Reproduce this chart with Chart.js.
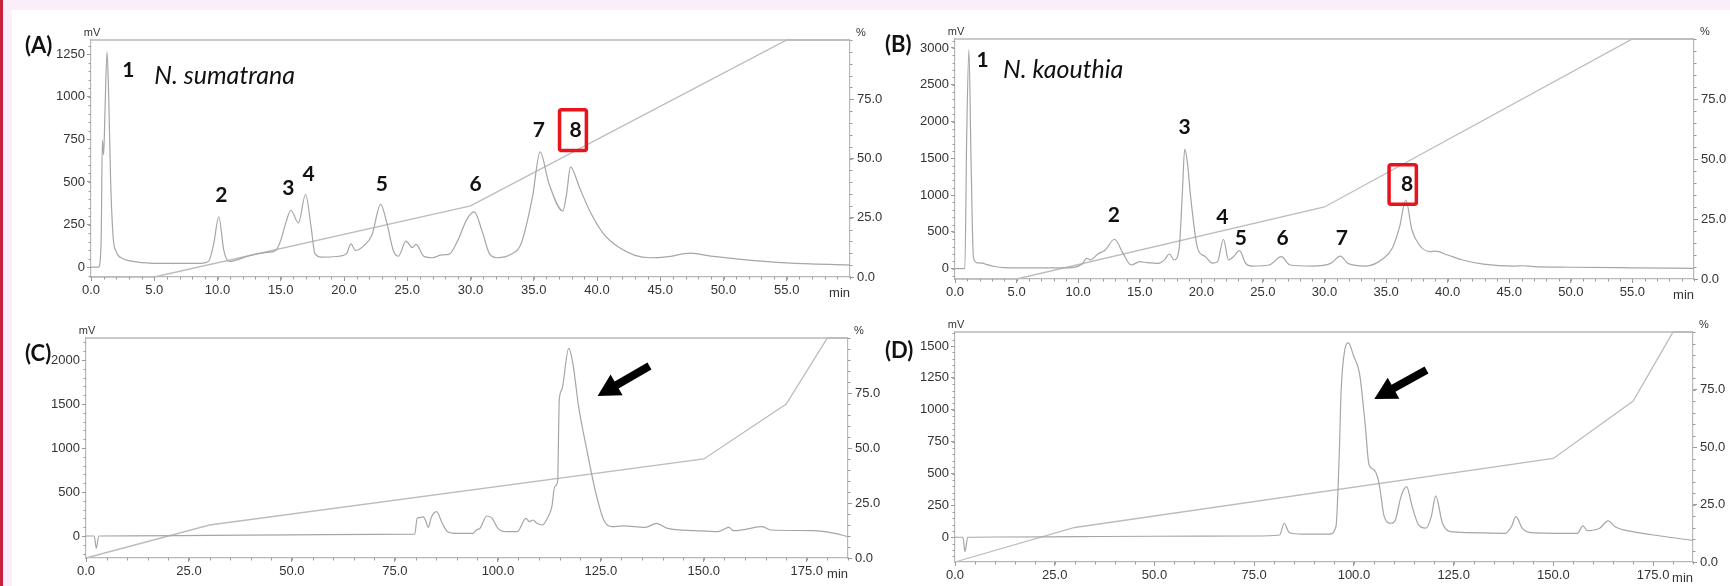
<!DOCTYPE html>
<html>
<head>
<meta charset="utf-8">
<script src="https://cdn.jsdelivr.net/npm/chart.js@4.4.1/dist/chart.umd.min.js"></script>
<style>
html,body{margin:0;padding:0;width:1730px;height:586px;overflow:hidden;background:#faeefa;}
#stripe{position:absolute;left:0;top:0;width:3px;height:586px;background:#c8203c;}
#sheet{position:absolute;left:12px;top:10px;width:1718px;height:576px;background:#ffffff;}
canvas{position:absolute;}
</style>
</head>
<body>
<div id="stripe"></div>
<div id="sheet"></div>
<canvas id="cA"></canvas>
<canvas id="cB"></canvas>
<canvas id="cC"></canvas>
<canvas id="cD"></canvas>
<script>
// ---------------- DATA ----------------
// (A) N. sumatrana : time (min) / detector signal (mV)
const timeA = [0, 0.6, 0.8, 0.9, 0.95, 1.0, 1.1, 1.27, 1.4, 1.55,
  1.75, 2.0, 2.5, 3.0, 4.0, 6.0, 8.5, 9.3, 9.7, 10.1,
  10.5, 10.9, 12.6, 13.8, 14.6, 15.0, 15.4, 15.8, 16.4, 16.96,
  17.4, 17.7, 18.2, 19.6, 20.2, 20.55, 20.9, 21.6, 22.2, 22.9,
  23.4, 23.9, 24.3, 24.9, 25.4, 25.7, 26.3, 27.0, 27.7, 28.3,
  29.0, 29.7, 30.3, 30.9, 31.5, 32.1, 33.2, 34.0, 34.9, 35.5,
  36.2, 37.3, 37.6, 37.9, 38.6, 39.4, 40.5, 41.7, 43.0, 44.2,
  45.5, 47.4, 49.0, 51.0, 55.0, 60.0];
const signalA = [0, 0, 150, 745, 700, 660, 900, 1265, 1000, 510,
  177, 90, 50, 38, 27, 22, 22, 35, 137, 296,
  98, 33, 69, 85, 98, 157, 260, 334, 259, 428,
  235, 79, 59, 64, 79, 137, 98, 128, 187, 369,
  255, 98, 64, 153, 114, 134, 64, 55, 72, 75,
  157, 279, 324, 216, 79, 55, 75, 137, 412, 677,
  491, 330, 432, 589, 471, 334, 197, 118, 69, 55,
  60, 82, 65, 49, 25, 12];
const gradientTimeA = [0, 5, 30, 55, 60];
const gradientA = [0, 0, 30, 100, 100];

// (B) N. kaouthia
const timeB = [0, 0.8, 0.95, 1.13, 1.3, 1.5, 1.8, 2.2, 2.6, 3.2,
  4.0, 6, 8, 9.5, 10.3, 10.7, 11.0, 11.6, 12.2, 12.95,
  13.6, 14.3, 15.0, 15.6, 16.5, 17.0, 17.4, 17.8, 18.2, 18.45,
  18.65, 18.9, 19.1, 19.7, 20.3, 20.9, 21.3, 21.8, 22.2, 22.6,
  23.1, 23.6, 24.1, 25.5, 26.5, 27.2, 29.0, 30.5, 31.3, 31.9,
  33.4, 34.8, 35.5, 36.1, 36.6, 37.1, 37.7, 38.6, 39.0, 40.0,
  41.2, 42.9, 45.4, 46.1, 47, 50, 55, 60];
const signalB = [0, 0, 1800, 2976, 1500, 150, 80, 75, 55, 30,
  15, 10, 10, 15, 60, 141, 120, 200, 254, 400,
  222, 50, 95, 82, 73, 120, 200, 118, 277, 1000,
  1624, 1400, 1029, 277, 168, 77, 90, 400, 118, 163,
  245, 73, 36, 50, 163, 50, 36, 73, 172, 73,
  36, 141, 277, 571, 934, 526, 322, 231, 240, 186,
  118, 63, 36, 40, 28, 20, 12, 5];
const gradientTimeB = [0, 5, 30, 55, 60];
const gradientB = [0, 0, 30, 100, 100];

// (C)
const timeC = [0, 2.0, 2.5, 3.1, 10, 30, 50, 70, 79.8, 80.4,
  81.0, 81.8, 82.4, 83.1, 83.8, 85.1, 86.5, 87.8, 89.9, 93.9,
  95.0, 95.5, 97.3, 98.6, 100.0, 102.0, 104.7, 106.8, 107.7, 108.5,
  109.5, 110.8, 112.2, 113.1, 113.8, 114.5, 114.9, 115.5, 117.2, 118.2,
  119.6, 121.6, 123.6, 125.7, 127.7, 130.4, 135.8, 138.5, 141.2, 148.0,
  153.4, 156.1, 157.2, 160.1, 164.2, 166.2, 176.4, 181.8, 185];
const signalC = [0, 0, -140, 0, 2, 8, 12, 18, 20, 200,
  208, 220, 182, 98, 208, 277, 144, 49, 30, 30,
  76, 80, 227, 200, 87, 49, 49, 200, 163, 182,
  144, 125, 220, 333, 561, 617, 1545, 1659, 2133, 1962,
  1470, 977, 523, 182, 106, 114, 98, 144, 87, 61,
  49, 98, 60, 76, 106, 68, 61, 30, -8];
const gradientTimeC = [0, 30, 150, 170, 180, 185];
const gradientC = [0, 15, 45, 70, 100, 100];

// (D)
const timeD = [0, 2.0, 2.5, 3.2, 10, 30, 50, 75, 81.4, 82.5,
  83.8, 86.9, 93.8, 95.5, 96.3, 96.8, 97.7, 98.6, 100.0, 101.4,
  102.8, 103.8, 105.1, 106.3, 107.6, 109.3, 110.4, 111.8, 113.2, 114.6,
  116.2, 118.0, 119.4, 120.5, 122.2, 124.2, 128.4, 138.0, 139.5, 140.6,
  142.2, 144.3, 156.0, 157.4, 158.5, 161.6, 163.7, 165.7, 169.9, 176.8, 185];
const signalD = [0, 0, -112, 0, 2, 5, 8, 10, 18, 110,
  37, 24, 24, 84, 632, 1154, 1468, 1525, 1416, 1285,
  893, 567, 528, 423, 162, 110, 136, 319, 397, 240,
  97, 71, 162, 324, 110, 44, 37, 31, 84, 162,
  71, 37, 31, 89, 52, 71, 128, 78, 44, 10, -25];
const gradientTimeD = [0, 30, 150, 170, 180, 185];
const gradientD = [0, 15, 45, 70, 100, 100];

// tick labels
const xTicksShort = [0, 5, 10, 15, 20, 25, 30, 35, 40, 45, 50, 55];
const xTicksLong = [0, 25, 50, 75, 100, 125, 150, 175];
const yTicksA = [0, 250, 500, 750, 1000, 1250];
const yTicksB = [0, 500, 1000, 1500, 2000, 2500, 3000];
const yTicksC = [0, 500, 1000, 1500, 2000];
const yTicksD = [0, 250, 500, 750, 1000, 1250, 1500];
const pctTicks = [0, 25, 50, 75];

// ---------------- STYLE / LAYOUT ----------------
const FONT_AX = "'Liberation Sans Narrow','Liberation Sans',Arial,sans-serif";
const FONT_LBL = "Lato,'Open Sans',sans-serif";
const TRACE = '#a6a6a6', GRAD = '#bcbcbc', FRAME = '#b8b8b8', TICK = '#9a9a9a', TXT = '#333333';
const WL = 75, WR = 36, HX = 30, PT = 30;

const panels = [
  { id: 'cA', x: 16, y: 10, w: 870, h: 297, time: timeA, sig: signalA, gt: gradientTimeA, g: gradientA,
    xMax: 60, yMin: -58, yMax: 1334, xT: xTicksShort, yT: yTicksA, xMinor: 1, yMinor: 50,
    deco: { letter: '(A)', ldx: -66, ldy: 6,
      species: { text: 'N. sumatrana', t: 5.0, v: 1122 },
      peaks: [['1', 2.96, 1155], ['2', 10.3, 422], ['3', 15.6, 463], ['4', 17.2, 546], ['5', 23.0, 487],
              ['6', 30.4, 487], ['7', 35.4, 805], ['8', 38.3, 805]],
      box: [36.9, 39.3, 675, 934], arrow: null } },
  { id: 'cB', x: 880, y: 9, w: 850, h: 300, time: timeB, sig: signalB, gt: gradientTimeB, g: gradientB,
    xMax: 60, yMin: -140, yMax: 3122, xT: xTicksShort, yT: yTicksB, xMinor: 1, yMinor: 100,
    deco: { letter: '(B)', ldx: -70, ldy: 6,
      species: { text: 'N. kaouthia', t: 3.9, v: 2700 },
      peaks: [['1', 2.25, 2836], ['2', 12.9, 730], ['3', 18.65, 1926], ['4', 21.7, 702], ['5', 23.2, 417],
              ['6', 26.6, 417], ['7', 31.4, 417], ['8', 36.7, 1151]],
      box: [35.1, 37.6, 851, 1436], arrow: null } },
  { id: 'cC', x: 11, y: 308, w: 873, h: 280, time: timeC, sig: signalC, gt: gradientTimeC, g: gradientC,
    xMax: 185, yMin: -250, yMax: 2250, xT: xTicksLong, yT: yTicksC, xMinor: 5, yMinor: 100,
    deco: { letter: '(C)', ldx: -61, ldy: 16, species: null, peaks: [], box: null,
      arrow: [136.8, 1932, 124.2, 1591] } },
  { id: 'cD', x: 880, y: 302, w: 849, h: 290, time: timeD, sig: signalD, gt: gradientTimeD, g: gradientD,
    xMax: 185, yMin: -194, yMax: 1610, xT: xTicksLong, yT: yTicksD, xMinor: 5, yMinor: 50,
    deco: { letter: '(D)', ldx: -70, ldy: 19, species: null, peaks: [], box: null,
      arrow: [118.2, 1312, 105.1, 1085] } }
];

const decor = {
  id: 'decor',
  afterDraw(chart, args, o) {
    const ctx = chart.ctx, a = chart.chartArea;
    const sx = chart.scales.x, sy = chart.scales.y, sr = chart.scales.y1;
    ctx.save();
    // minor ticks
    ctx.strokeStyle = TICK; ctx.lineWidth = 1;
    ctx.beginPath();
    for (let v = 0; v <= sx.max + 1e-9; v += o.xMinor) {
      const px = Math.round(sx.getPixelForValue(v)) + 0.5;
      ctx.moveTo(px, a.bottom); ctx.lineTo(px, a.bottom + 2.5);
    }
    for (let v = Math.ceil(sy.min / o.yMinor) * o.yMinor; v <= sy.max; v += o.yMinor) {
      const py = Math.round(sy.getPixelForValue(v)) + 0.5;
      ctx.moveTo(a.left, py); ctx.lineTo(a.left - 2.5, py);
    }
    for (let v = 0; v <= 100; v += 5) {
      const py = Math.round(sr.getPixelForValue(v)) + 0.5;
      ctx.moveTo(a.right, py); ctx.lineTo(a.right + 2.5, py);
    }
    ctx.stroke();
    // top frame line
    ctx.strokeStyle = FRAME; ctx.lineWidth = 1.5;
    ctx.beginPath(); ctx.moveTo(a.left, a.top); ctx.lineTo(a.right, a.top); ctx.stroke();
    // units
    ctx.fillStyle = TXT; ctx.textBaseline = 'middle'; ctx.textAlign = 'center';
    ctx.font = '11px ' + FONT_AX;
    ctx.fillText('mV', a.left + 1, a.top - 7);
    ctx.fillText('%', a.right + 11, a.top - 7);
    ctx.textAlign = 'right'; ctx.font = '13px ' + FONT_AX;
    ctx.fillText('min', a.right, a.bottom + 16);
    // panel letter
    ctx.fillStyle = '#111'; ctx.textAlign = 'left';
    ctx.font = '700 22px ' + FONT_LBL;
    ctx.fillText(o.letter, a.left + o.ldx, a.top + o.ldy);
    // species name
    if (o.species) {
      ctx.font = 'italic 400 25px ' + FONT_LBL;
      ctx.fillText(o.species.text, sx.getPixelForValue(o.species.t), sy.getPixelForValue(o.species.v));
    }
    // peak numbers
    ctx.textAlign = 'center'; ctx.font = '700 21px ' + FONT_LBL;
    for (const p of o.peaks) ctx.fillText(p[0], sx.getPixelForValue(p[1]), sy.getPixelForValue(p[2]));
    // red box
    if (o.box) {
      const x0 = sx.getPixelForValue(o.box[0]), x1 = sx.getPixelForValue(o.box[1]);
      const y0 = sy.getPixelForValue(o.box[3]), y1 = sy.getPixelForValue(o.box[2]);
      ctx.strokeStyle = '#e8141c'; ctx.lineWidth = 3.5;
      ctx.beginPath();
      if (ctx.roundRect) ctx.roundRect(x0 + 1.75, y0 + 1.75, x1 - x0 - 3.5, y1 - y0 - 3.5, 2);
      else ctx.rect(x0 + 1.75, y0 + 1.75, x1 - x0 - 3.5, y1 - y0 - 3.5);
      ctx.stroke();
    }
    // arrow
    if (o.arrow) {
      const tx = sx.getPixelForValue(o.arrow[0]), ty = sy.getPixelForValue(o.arrow[1]);
      const hx = sx.getPixelForValue(o.arrow[2]), hy = sy.getPixelForValue(o.arrow[3]);
      const dx = hx - tx, dy = hy - ty, L = Math.hypot(dx, dy);
      const ux = dx / L, uy = dy / L, nx = -uy, ny = ux;
      const hl = 22, hw = 12, sw = 4;
      const bx = hx - ux * hl, by = hy - uy * hl;
      ctx.fillStyle = '#000';
      ctx.beginPath();
      ctx.moveTo(tx + nx * sw, ty + ny * sw);
      ctx.lineTo(bx + nx * sw, by + ny * sw);
      ctx.lineTo(bx + nx * hw, by + ny * hw);
      ctx.lineTo(hx, hy);
      ctx.lineTo(bx - nx * hw, by - ny * hw);
      ctx.lineTo(bx - nx * sw, by - ny * sw);
      ctx.lineTo(tx - nx * sw, ty - ny * sw);
      ctx.closePath(); ctx.fill();
    }
    ctx.restore();
  }
};

function axisFont() { return { family: FONT_AX, size: 13 }; }

for (const p of panels) {
  const cv = document.getElementById(p.id);
  cv.width = p.w; cv.height = p.h;
  cv.style.left = p.x + 'px'; cv.style.top = p.y + 'px';
  cv.style.width = p.w + 'px'; cv.style.height = p.h + 'px';
  new Chart(cv, {
    type: 'line',
    data: {
      datasets: [
        { data: p.time.map((t, i) => ({ x: t, y: p.sig[i] })), yAxisID: 'y',
          borderColor: TRACE, borderWidth: 1.2, pointRadius: 0, cubicInterpolationMode: 'monotone', fill: false, clip: 2 },
        { data: p.gt.map((t, i) => ({ x: t, y: p.g[i] })), yAxisID: 'y1',
          borderColor: GRAD, borderWidth: 1.3, pointRadius: 0, tension: 0, fill: false, clip: 2 }
      ]
    },
    options: {
      responsive: false, animation: false, devicePixelRatio: 1,
      layout: { padding: { top: PT, left: 0, right: 0, bottom: 0 } },
      plugins: { legend: { display: false }, tooltip: { enabled: false }, decor: { ...p.deco, xMinor: p.xMinor, yMinor: p.yMinor } },
      scales: {
        x: { type: 'linear', min: 0, max: p.xMax,
          afterBuildTicks: s => { s.ticks = p.xT.map(v => ({ value: v })); },
          afterFit: s => { s.height = HX; },
          ticks: { callback: v => Number(v).toFixed(1), font: axisFont(), color: TXT, padding: 2, maxRotation: 0, autoSkip: false },
          grid: { display: true, drawOnChartArea: false, drawTicks: true, tickLength: 4, color: TICK },
          border: { display: true, color: FRAME, width: 1.2 } },
        y: { type: 'linear', position: 'left', min: p.yMin, max: p.yMax,
          afterBuildTicks: s => { s.ticks = p.yT.map(v => ({ value: v })); },
          afterFit: s => { s.width = WL; },
          ticks: { callback: v => String(v), font: axisFont(), color: TXT, padding: 2, autoSkip: false },
          grid: { display: true, drawOnChartArea: false, drawTicks: true, tickLength: 4, color: TICK },
          border: { display: true, color: FRAME, width: 1.2 } },
        y1: { type: 'linear', position: 'right', min: 0, max: 100,
          afterBuildTicks: s => { s.ticks = pctTicks.map(v => ({ value: v })); },
          afterFit: s => { s.width = WR; },
          ticks: { callback: v => Number(v).toFixed(1), font: axisFont(), color: TXT, padding: 3, autoSkip: false },
          grid: { display: true, drawOnChartArea: false, drawTicks: true, tickLength: 4, color: TICK },
          border: { display: true, color: FRAME, width: 1.2 } }
      }
    },
    plugins: [decor]
  });
}
</script>
</body>
</html>
